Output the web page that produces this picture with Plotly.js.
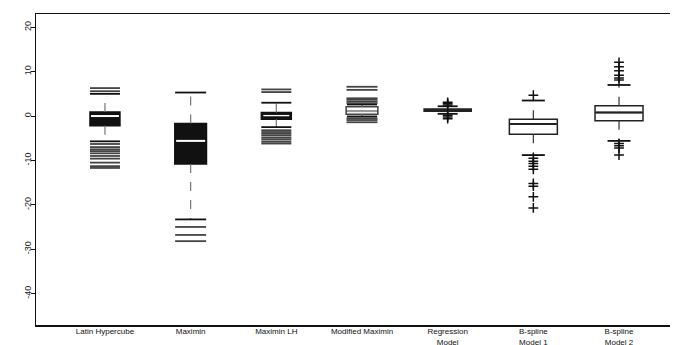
<!DOCTYPE html>
<html>
<head>
<meta charset="utf-8">
<script src="https://cdn.plot.ly/plotly-3.0.1.min.js"></script>
<style>html,body{margin:0;padding:0;background:#fff;}#chart{width:673px;height:345px;}</style>
</head>
<body>
<div id="chart"></div>
<script>
// ---- data ----
var categories = ['Latin Hypercube', 'Maximin', 'Maximin LH', 'Modified Maximin',
                  'Regression<br>Model', 'B-spline<br>Model 1', 'B-spline<br>Model 2'];
var q1Values     = [-2.2, -10.8, -0.7, 0.4, 1.1, -4.1, -1.05];
var medianValues = [0.0, -5.6, 0.1, 1.1, 1.35, -1.8, 0.8];
var q3Values     = [0.9, -1.7, 0.8, 2.1, 1.6, -0.7, 2.3];
var lowerWhisker = [-5.7, -23.3, -2.5, -0.1, 0.5, -8.8, -5.6];
var upperWhisker = [5.0, 5.3, 3.0, 2.6, 2.2, 3.5, 7.0];
var outlierValues = [
  [6.3, 5.6, -6.3, -7.0, -7.5, -7.9, -8.4, -9.0, -9.6, -10.5, -11.3, -11.7],
  [-25.0, -26.8, -28.2],
  [6.0, 5.4, -3.2, -3.6, -4.0, -4.4, -4.9, -5.3, -5.8, -6.2],
  [6.6, 5.9, 2.9, 3.3, 3.7, 4.0, -0.5, -0.9, -1.4],
  [2.5, 2.8, 3.1, 0.2, -0.2, -0.6],
  [4.7, -9.5, -10.2, -10.7, -11.3, -12.0, -15.2, -15.8, -18.2, -20.7],
  [12.1, 11.1, 10.2, 9.2, 8.6, 8.1, -6.2, -6.7, -7.2, -8.8]
];
var yTickValues = [20, 10, 0, -10, -20, -30, -40];

// ---- styles ----
var boxWidthUnits = [0.35, 0.37, 0.35, 0.37, 0.55, 0.56, 0.56];
var boxFill      = ['#111', '#111', '#111', '#fff', '#fff', '#fff', '#fff'];
var boxLine      = ['#111', '#111', '#111', '#444', '#222', '#222', '#222'];
var medianColor  = ['#fff', '#fff', '#fff', '#999', '#222', '#222', '#222'];
var medianThick  = [2, 2, 1.3, 2, 2, 2, 2];
var whiskerColor = ['#777', '#777', '#777', '#777', '#333', '#333', '#333'];
var capLenPx     = [30, 31, 30, 30, 20, 23, 23];
var medianLenPx  = [28, 29, 26, 30, 46, 46, 46];
var outlierStyle = ['line', 'line', 'line', 'line', 'plus', 'plus', 'plus'];
var outlierLenPx = [30, 31, 30, 31, 0, 0, 0];
var LINE_EW = 1.4; // plotly's line-ew symbol spans 1.4 x marker size

var traces = [];
for (var i = 0; i < categories.length; i++) {
  var c = categories[i];
  traces.push({
    type: 'box', x: [c],
    q1: [q1Values[i]], median: [medianValues[i]], q3: [q3Values[i]],
    lowerfence: [q1Values[i]], upperfence: [q3Values[i]],
    width: boxWidthUnits[i], fillcolor: boxFill[i],
    line: {color: boxLine[i], width: 1.5}, whiskerwidth: 0,
    boxpoints: false, hoverinfo: 'skip', showlegend: false
  });
  traces.push({
    type: 'scatter', mode: 'lines',
    x: [c, c, null, c, c], y: [q3Values[i], upperWhisker[i], null, q1Values[i], lowerWhisker[i]],
    line: {color: whiskerColor[i], width: 1.2, dash: 'dash'},
    hoverinfo: 'skip', showlegend: false
  });
  traces.push({
    type: 'scatter', mode: 'markers', x: [c, c], y: [lowerWhisker[i], upperWhisker[i]],
    marker: {symbol: 'line-ew', size: capLenPx[i] / LINE_EW, color: '#111', line: {color: '#111', width: 1.8}},
    hoverinfo: 'skip', showlegend: false
  });
  traces.push({
    type: 'scatter', mode: 'markers', x: [c], y: [medianValues[i]],
    marker: {symbol: 'line-ew', size: medianLenPx[i] / LINE_EW,
             color: medianColor[i], line: {color: medianColor[i], width: medianThick[i]}},
    hoverinfo: 'skip', showlegend: false
  });
  var xs = outlierValues[i].map(function () { return c; });
  if (outlierStyle[i] === 'line') {
    traces.push({
      type: 'scatter', mode: 'markers', x: xs, y: outlierValues[i],
      marker: {symbol: 'line-ew', size: outlierLenPx[i] / LINE_EW, color: '#444', line: {color: '#444', width: 1.8}},
      hoverinfo: 'skip', showlegend: false
    });
  } else {
    traces.push({
      type: 'scatter', mode: 'markers', x: xs, y: outlierValues[i],
      marker: {symbol: 'cross-thin', size: 7, color: '#111', line: {color: '#111', width: 1.5}},
      hoverinfo: 'skip', showlegend: false
    });
  }
}

var layout = {
  width: 673, height: 345,
  margin: {l: 36, r: 3, t: 14, b: 20, pad: 0},
  paper_bgcolor: '#fff', plot_bgcolor: '#fff',
  boxmode: 'overlay', showlegend: false,
  font: {family: 'Liberation Sans, Arial, sans-serif', color: '#111', size: 9},
  xaxis: {
    type: 'category', categoryorder: 'array', categoryarray: categories,
    range: [-0.805, 6.595], showgrid: false, zeroline: false,
    showline: true, mirror: true, linecolor: '#111', linewidth: 1.5,
    ticks: '', ticklabelstandoff: -2,
    tickfont: {size: 8, family: 'Liberation Sans, Arial, sans-serif', color: '#111'}
  },
  yaxis: {
    range: [-47.1, 23.0], tickvals: yTickValues, ticktext: yTickValues.map(String),
    showgrid: false, zeroline: false, showline: true, linecolor: '#111', linewidth: 1.5,
    ticks: 'outside', ticklen: 4, tickwidth: 1, tickcolor: '#111', tickangle: -90,
    ticklabelstandoff: -4,
    tickfont: {size: 9, family: 'Liberation Sans, Arial, sans-serif', color: '#222'}
  }
};

Plotly.newPlot('chart', traces, layout, {staticPlot: true, displayModeBar: false});
</script>
</body>
</html>
